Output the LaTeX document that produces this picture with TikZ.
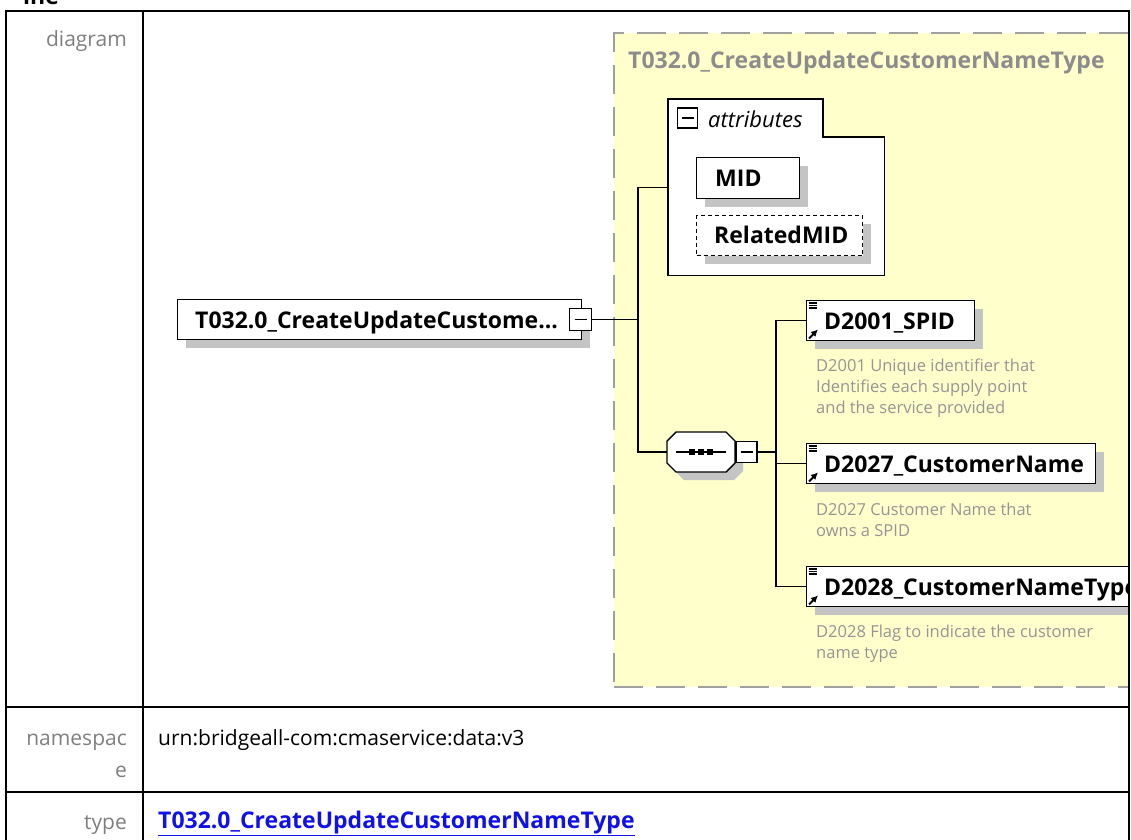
\documentclass[tikz,border=0pt]{standalone}
\usepackage{fontspec}
\setmainfont{Open Sans}
\usetikzlibrary{shadows,arrows.meta}
\definecolor{ybg}{HTML}{FFFFCC}
\definecolor{ydash}{HTML}{A0A0A0}
\definecolor{lgrey}{HTML}{7F7F7F}
\definecolor{tgrey}{HTML}{8C8C8C}
\definecolor{dgrey}{HTML}{959595}
\definecolor{shgrey}{HTML}{C4C4C4}
\definecolor{lblue}{HTML}{1010E8}
\tikzset{
  tline/.style={line width=2pt, black},
  lbl/.style={anchor=base east, inner sep=0, text=lgrey, font=\fontsize{21}{26}\selectfont},
  val/.style={anchor=base west, inner sep=0, font=\fontsize{21}{26}\selectfont},
  bname/.style={anchor=base west, inner sep=0, font=\fontsize{23}{28}\selectfont\bfseries},
  dtext/.style={anchor=base west, inner sep=0, text=dgrey, font=\fontsize{16.5}{21}\selectfont},
  shad/.style={drop shadow={shadow xshift=8pt, shadow yshift=-8pt, fill=shgrey, opacity=1}},
  ebox/.style={draw=black, line width=1.4pt, fill=white, anchor=north west, inner sep=0, shad},
  minusbox/.style={draw=black, line width=1.4pt, fill=white, minimum size=20pt, inner sep=0,
    path picture={\draw[line width=1.4pt] ([xshift=-6pt]path picture bounding box.center) -- ([xshift=6pt]path picture bounding box.center);}},
  conn/.style={line width=1.4pt, black},
  ctbox/.style={draw=ydash, fill=ybg, line width=2pt, dash pattern=on 29pt off 13pt, anchor=north west, inner sep=0},
}
\begin{document}
\begin{tikzpicture}[x=1pt,y=-1pt]
\useasboundingbox (0,0) rectangle (1131,839);
% header remnant
\node[anchor=base west, inner sep=0, font=\fontsize{23}{28}\selectfont\bfseries] (hdr) at (23,4) {ine};
% labels
\node[lbl] (ldiag) at (127,46) {diagram};
\node[lbl] (lns1) at (127,745) {namespac};
\node[lbl] (lns2) at (127,777) {e};
\node[lbl] (ltype) at (127,829) {type};
\node[val] (vns) at (158,745) {urn:bridgeall-com:cmaservice:data:v3};
\node[bname, text=lblue] (vtype) at (158,828) {\underline{T032.0\_CreateUpdateCustomerNameType}};
% diagram
\begin{scope}
\clip (144,12) rectangle (1128,706);
\node[ctbox, minimum width=560pt, minimum height=654pt] (ct) at (613,32) {};
\node[bname, text=tgrey] (cttitle) at (628,68) {T032.0\_CreateUpdateCustomerNameType};
% root element
\node[ebox, minimum width=404pt, minimum height=40pt] (root) at (177,299) {};
\node[bname] (roottxt) at (195,328) {T032.0\_CreateUpdateCustome...};
\node[minusbox, minimum size=22pt] (rootc) at (580.5,319.5) {};
% attributes group
\node[inner sep=0, minimum width=216pt, minimum height=176pt, anchor=north west] (attr) at (668,99) {};
\draw[line width=1.4pt, fill=white] (attr.north west) -- (823,99) -- (823,137) -- (attr.south east |- 0,137) -- (attr.south east) -- (attr.south west) -- cycle;
\node[minusbox, minimum size=20pt] (attrc) at (687.5,118) {};
\node[anchor=base west, inner sep=0, font=\fontsize{22}{26}\selectfont\itshape] (attrtxt) at (708,127) {attributes};
\node[ebox, minimum width=103pt, minimum height=41pt] (mid) at (696,157) {};
\node[bname] (midtxt) at (715,186) {MID};
\node[ebox, dash pattern=on 4pt off 3pt, minimum width=166pt, minimum height=40pt] (rmid) at (696,215) {};
\node[bname] (rmidtxt) at (714,243.5) {RelatedMID};
% sequence
\node[inner sep=0, minimum width=68pt, minimum height=40pt] (seq) at (701,452) {};
\draw[line width=1.4pt, fill=white, shad] (667,441) -- (676,432) -- (726,432) -- (735,441) -- (735,463) -- (726,472) -- (676,472) -- (667,463) -- cycle;
\draw[line width=1.3pt] (676,452) -- (726,452);
\foreach \xx in {692,701,710} { \fill (\xx-3,449) rectangle (\xx+3,455); }
\node[minusbox, minimum size=21pt] (seqc) at (746.5,452) {};
% elements
\node[ebox, minimum width=168pt, minimum height=40pt] (e1) at (806,300) {};
\node[bname] (e1txt) at (824,329) {D2001\_SPID};
\node[ebox, minimum width=289pt, minimum height=40pt] (e2) at (806,443) {};
\node[bname] (e2txt) at (824,472) {D2027\_CustomerName};
\node[ebox, minimum width=400pt, minimum height=40pt] (e3) at (806,566) {};
\node[bname] (e3txt) at (824,595) {D2028\_CustomerNameType};
\foreach \e in {e1,e2,e3} {
  \foreach \dy in {3,5.5,8} { \draw[line width=1.1pt] ([xshift=2.5pt,yshift=-\dy pt]\e.north west) -- ++(8,0); }
  \draw[line width=2pt, -{Latex[length=7pt,width=7pt]}] ([xshift=3pt,yshift=3pt]\e.south west) -- ++(9,-9);
}
% descriptions
\node[dtext] (d1a) at (816,371) {D2001 Unique identifier that};
\node[dtext] (d1b) at (816,392) {Identifies each supply point};
\node[dtext] (d1c) at (816,413) {and the service provided};
\node[dtext] (d2a) at (816,515) {D2027 Customer Name that};
\node[dtext] (d2b) at (816,536) {owns a SPID};
\node[dtext] (d3a) at (816,637) {D2028 Flag to indicate the customer};
\node[dtext] (d3b) at (816,658) {name type};
% connectors
\coordinate (j1) at (638,319.5);
\coordinate (j2) at (776,452);
\draw[conn] (rootc.east) -- (j1);
\draw[conn] (j1) |- (attr.west);
\draw[conn] (j1) |- (seq.west);
\draw[conn] (seqc.east) -- (j2);
\draw[conn] (j2) |- (e1.west);
\draw[conn] (j2) |- (e2.west);
\draw[conn] (j2) |- (e3.west);
\end{scope}
% table
\draw[tline] (6,11) -- (1129,11);
\draw[tline] (6,10) -- (6,840);
\draw[tline] (143,10) -- (143,840);
\draw[tline] (1129,10) -- (1129,840);
\draw[tline] (6,707) -- (1129,707);
\draw[tline] (6,792) -- (1129,792);
\end{tikzpicture}
\end{document}
